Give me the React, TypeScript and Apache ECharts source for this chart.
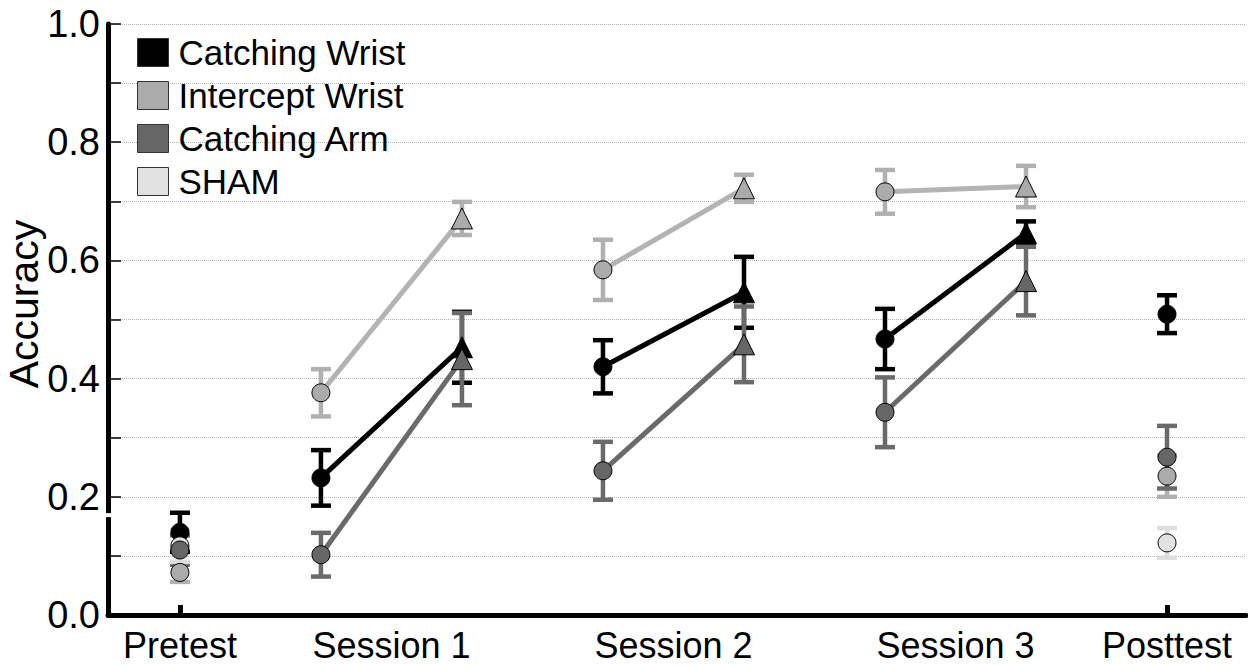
import React, { useEffect, useRef } from "react";
import * as echarts from "echarts";

const timeLabels = ["Pretest", "Session 1", "Session 2", "Session 3", "Posttest"];
const labelPositions = [0, 1.5, 3.5, 5.5, 7];
const tickPositions = [0, 7];
const timePoints = [0, 1, 2, 3, 4, 5, 6, 7];
const markerShapes = ["circle", "circle", "triangle", "circle", "triangle", "circle", "triangle", "circle"];
const sessionSegments = [[1, 2], [3, 4], [5, 6]];

const yAxisTitle = "Accuracy";
const groupNames = ["Catching Wrist", "Intercept Wrist", "Catching Arm", "SHAM"];

const cwMean = [0.14, 0.232, 0.453, 0.42, 0.546, 0.467, 0.646, 0.509];
const cwErr = [0.033, 0.047, 0.06, 0.045, 0.06, 0.051, 0.02, 0.032];
const iwMean = [0.072, 0.376, 0.671, 0.584, 0.722, 0.716, 0.725, 0.235];
const iwErr = [0.016, 0.04, 0.028, 0.051, 0.023, 0.037, 0.035, 0.035];
const caMean = [0.11, 0.102, 0.433, 0.244, 0.458, 0.343, 0.565, 0.267];
const caErr = [0.025, 0.037, 0.078, 0.049, 0.064, 0.059, 0.058, 0.053];
const shamMean = [0.117, null, null, null, null, null, null, 0.122];
const shamErr = [0.027, null, null, null, null, null, null, 0.025];

const FONT = "Liberation Sans, Arial, sans-serif";

type Group = {
  name: string;
  mean: (number | null)[];
  err: (number | null)[];
  fill: string;
  lineColor: string;
  barColor: string;
  hasLines: boolean;
};

const groups: Group[] = [
  { name: groupNames[0], mean: cwMean, err: cwErr, fill: "#000000", lineColor: "#000000", barColor: "#000000", hasLines: true },
  { name: groupNames[1], mean: iwMean, err: iwErr, fill: "#ababab", lineColor: "#b3b3b3", barColor: "#b0b0b0", hasLines: true },
  { name: groupNames[2], mean: caMean, err: caErr, fill: "#666666", lineColor: "#6a6a6a", barColor: "#6a6a6a", hasLines: true },
  { name: groupNames[3], mean: shamMean, err: shamErr, fill: "#e2e2e2", lineColor: "#e2e2e2", barColor: "#dedede", hasLines: false },
];

// drawing order of markers (later on top)
const markerOrder = [0, 3, 2, 1];

function buildSeries(): any[] {
  const errSeries: any[] = [];
  const lineSeries: any[] = [];
  const markSeries: any[] = [];
  groups.forEach((g) => {
    const barData = timePoints
      .filter((i) => g.mean[i] != null)
      .map((i) => [i, (g.mean[i] as number) - (g.err[i] as number), (g.mean[i] as number) + (g.err[i] as number)]);
    errSeries.push({
      name: g.name,
      type: "custom",
      z: 2,
      data: barData,
      encode: { x: 0, y: [1, 2] },
      renderItem: (params: any, api: any) => {
        const x = api.value(0);
        const lo = api.coord([x, api.value(1)]);
        const hi = api.coord([x, api.value(2)]);
        const hw = 10;
        const style = { stroke: g.barColor, lineWidth: 4.5, fill: "none" };
        return {
          type: "group",
          children: [
            { type: "line", shape: { x1: lo[0], y1: lo[1], x2: hi[0], y2: hi[1] }, style },
            { type: "line", shape: { x1: hi[0] - hw, y1: hi[1], x2: hi[0] + hw, y2: hi[1] }, style },
            { type: "line", shape: { x1: lo[0] - hw, y1: lo[1], x2: lo[0] + hw, y2: lo[1] }, style },
          ],
        };
      },
    });
    if (g.hasLines) {
      sessionSegments.forEach(([a, b]) => {
        lineSeries.push({
          name: g.name,
          type: "line",
          z: 3,
          symbol: "none",
          data: [
            [a, g.mean[a]],
            [b, g.mean[b]],
          ],
          lineStyle: { color: g.lineColor, width: 5 },
          itemStyle: { color: g.fill },
        });
      });
    }
  });
  markerOrder.forEach((gi) => {
    const g = groups[gi];
    markSeries.push({
      name: g.name,
      type: "scatter",
      z: 4,
      data: timePoints
        .filter((i) => g.mean[i] != null)
        .map((i) => ({
          value: [i, g.mean[i]],
          symbol: markerShapes[i],
          symbolSize: markerShapes[i] === "triangle" ? 21 : 18,
        })),
      itemStyle: { color: g.fill, borderColor: "#000", borderWidth: 1, opacity: 1 },
    });
  });
  return [...errSeries, ...lineSeries, ...markSeries];
}

export default function App() {
  const ref = useRef<HTMLDivElement>(null);
  useEffect(() => {
    document.body.style.margin = "0";
    if (!ref.current) return;
    const chart = echarts.init(ref.current, null, { renderer: "svg" });
    chart.setOption({
      animation: false,
      backgroundColor: "#ffffff",
      textStyle: { fontFamily: FONT },
      grid: { left: 108, right: 2, top: 24, bottom: 51, containLabel: false, outerBoundsMode: "none" },
      legend: {
        orient: "vertical",
        left: 137,
        top: 35,
        padding: 0,
        itemWidth: 31,
        itemHeight: 28,
        itemGap: 8,
        icon: "rect",
        selectedMode: false,
        textStyle: { fontSize: 35, color: "#000", fontFamily: FONT, padding: [0, 0, 0, 5] },
        data: groups.map((g) => ({
          name: g.name,
          itemStyle: { color: g.fill, borderColor: "#333", borderWidth: 1 },
        })),
      },
      xAxis: {
        type: "value",
        min: -0.51,
        max: 7.56,
        axisLine: { show: true, onZero: false, lineStyle: { color: "#000", width: 5 } },
        axisTick: {
          show: true,
          inside: true,
          length: 10,
          customValues: tickPositions,
          lineStyle: { color: "#000", width: 5 },
        },
        axisLabel: {
          customValues: labelPositions,
          fontSize: 36,
          lineHeight: 36,
          color: "#000",
          margin: 12,
          formatter: (v: number) => {
            const idx = labelPositions.findIndex((p) => Math.abs(p - v) < 1e-6);
            return idx >= 0 ? timeLabels[idx] : "";
          },
        },
        splitLine: { show: false },
      },
      yAxis: {
        type: "value",
        min: 0,
        max: 1,
        interval: 0.1,
        axisLine: { show: true, onZero: false, lineStyle: { color: "#000", width: 5 } },
        axisTick: { show: true, inside: true, length: 13, lineStyle: { color: "#000", width: 1.5 } },
        axisLabel: {
          fontSize: 38,
          color: "#000",
          margin: 8,
          formatter: (v: number) => (Math.round(v * 10) % 2 === 0 ? v.toFixed(1) : ""),
        },
        splitLine: { show: true, lineStyle: { type: "dotted", color: "#b5b5b5", width: 1 } },
      },
      series: buildSeries(),
    });
    const bx = chart.convertToPixel({ xAxisIndex: 0 }, -0.51) as number;
    const by = chart.convertToPixel({ yAxisIndex: 0 }, 0.169) as number;
    chart.setOption({
      graphic: [
        {
          type: "rect",
          z: 100,
          shape: { x: bx - 4, y: by - 2, width: 8, height: 4 },
          style: { fill: "#ffffff" },
        },
        {
          type: "text",
          z: 100,
          x: 24,
          y: 304,
          rotation: Math.PI / 2,
          style: {
            text: yAxisTitle,
            fontSize: 41,
            fontFamily: FONT,
            fill: "#000",
            align: "center",
            verticalAlign: "middle",
          },
        },
      ],
    });
    return () => chart.dispose();
  }, []);
  return <div ref={ref} style={{ width: 1248, height: 666 }} />;
}
